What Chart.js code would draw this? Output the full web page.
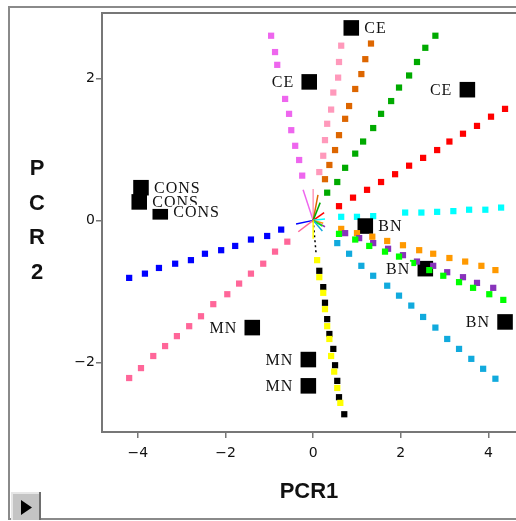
<!DOCTYPE html>
<html>
<head>
<meta charset="utf-8">
<script src="https://cdn.jsdelivr.net/npm/chart.js@4.4.1/dist/chart.umd.min.js"></script>
<style>
  html, body { margin: 0; padding: 0; background: #fff; }
  canvas { display: block; }
</style>
</head>
<body>
<canvas id="pcr-chart" width="516" height="521"></canvas>
<script>
// axes
const xTickValues = [-4, -2, 0, 2, 4];
const xTickLabels = ['−4', '−2', '0', '2', '4'];
const yTickValues = [2, 0, -2];
const yTickLabels = ['2', '0', '−2'];
const xTitle = 'PCR1';
const yTitleLetters = ['P', 'C', 'R', '2'];

// loading rays (PCR1, PCR2)
const violetX = [-0.96, -0.87, -0.82, -0.75, -0.64, -0.55, -0.50, -0.41, -0.32, -0.25];
const violetY = [2.60, 2.37, 2.19, 1.95, 1.71, 1.50, 1.27, 1.05, 0.85, 0.63];
const lightPinkX = [0.78, 0.64, 0.59, 0.57, 0.46, 0.41, 0.32, 0.27, 0.23, 0.14];
const lightPinkY = [2.70, 2.46, 2.23, 2.01, 1.80, 1.56, 1.36, 1.13, 0.91, 0.68];
const brownX = [1.32, 1.19, 1.10, 0.96, 0.82, 0.73, 0.59, 0.50, 0.37, 0.27];
const brownY = [2.49, 2.27, 2.06, 1.85, 1.61, 1.43, 1.20, 0.99, 0.78, 0.58];
const darkGreenX = [2.79, 2.56, 2.37, 2.19, 1.96, 1.78, 1.55, 1.37, 1.14, 0.96, 0.73, 0.55, 0.32];
const darkGreenY = [2.60, 2.43, 2.23, 2.04, 1.87, 1.68, 1.50, 1.30, 1.11, 0.94, 0.74, 0.54, 0.39];
const redX = [4.38, 4.06, 3.74, 3.42, 3.11, 2.83, 2.51, 2.19, 1.87, 1.55, 1.23, 0.91, 0.59];
const redY = [1.57, 1.46, 1.33, 1.22, 1.11, 0.99, 0.88, 0.77, 0.65, 0.54, 0.43, 0.32, 0.20];
const cyanX = [4.29, 3.93, 3.56, 3.20, 2.83, 2.47, 2.10, 1.37, 1.00, 0.64];
const cyanY = [0.18, 0.15, 0.15, 0.13, 0.12, 0.11, 0.11, 0.06, 0.05, 0.05];
const orangeX = [0.64, 1.00, 1.35, 1.69, 2.05, 2.42, 2.74, 3.11, 3.47, 3.84, 4.16];
const orangeY = [-0.12, -0.18, -0.23, -0.29, -0.35, -0.42, -0.47, -0.53, -0.58, -0.64, -0.70];
const purpleX = [0.73, 1.05, 1.37, 1.71, 2.05, 2.37, 2.74, 3.06, 3.42, 3.74, 4.11];
const purpleY = [-0.18, -0.25, -0.32, -0.40, -0.49, -0.58, -0.64, -0.73, -0.80, -0.88, -0.95];
const limeX = [0.59, 0.96, 1.28, 1.64, 1.96, 2.28, 2.65, 2.97, 3.33, 3.65, 4.02, 4.34];
const limeY = [-0.19, -0.27, -0.36, -0.44, -0.51, -0.60, -0.70, -0.78, -0.87, -0.95, -1.04, -1.12];
const skyX = [0.55, 0.82, 1.10, 1.37, 1.69, 1.96, 2.24, 2.51, 2.79, 3.06, 3.33, 3.61, 3.88, 4.16];
const skyY = [-0.32, -0.47, -0.64, -0.78, -0.92, -1.06, -1.20, -1.36, -1.51, -1.67, -1.81, -1.95, -2.09, -2.23];
const blueX = [-4.20, -3.84, -3.52, -3.15, -2.79, -2.47, -2.10, -1.78, -1.42, -1.05, -0.73];
const blueY = [-0.81, -0.75, -0.67, -0.61, -0.56, -0.47, -0.42, -0.36, -0.27, -0.22, -0.13];
const pinkX = [-4.20, -3.93, -3.65, -3.38, -3.11, -2.83, -2.56, -2.28, -1.96, -1.69, -1.42, -1.14, -0.87, -0.59];
const pinkY = [-2.22, -2.08, -1.91, -1.77, -1.63, -1.49, -1.35, -1.18, -1.04, -0.89, -0.75, -0.61, -0.44, -0.30];
const blackX = [0.14, 0.23, 0.27, 0.32, 0.37, 0.46, 0.50, 0.55, 0.59, 0.71];
const blackY = [-0.71, -0.94, -1.16, -1.39, -1.60, -1.81, -2.04, -2.26, -2.49, -2.73];
const yellowX = [0.09, 0.14, 0.23, 0.27, 0.32, 0.37, 0.41, 0.48, 0.55, 0.62];
const yellowY = [-0.56, -0.80, -1.02, -1.25, -1.49, -1.67, -1.91, -2.13, -2.36, -2.57];

// short vectors near the origin, same order as the rays below
const vectorEndX = [-0.23, 0.00, 0.11, 0.16, 0.25, 0.27, 0.23, 0.27, 0.21, 0.21, -0.39, -0.34, 0.07, 0.00];
const vectorEndY = [0.43, 0.44, 0.36, 0.25, 0.11, 0.02, -0.04, -0.09, -0.08, -0.15, -0.05, -0.16, -0.49, -0.26];

// samples
const sampleX = [0.87, -0.09, 3.52, 1.19, 2.56, 4.38, -1.39, -0.11, -0.11, -3.97, -3.49, -3.93];
const sampleY = [2.71, 1.95, 1.84, -0.08, -0.68, -1.43, -1.51, -1.96, -2.33, 0.26, 0.12, 0.46];
const sampleLabels = ['CE', 'CE', 'CE', 'BN', 'BN', 'BN', 'MN', 'MN', 'MN', 'CONS', 'CONS', 'CONS'];
const sampleSide = ['right', 'left', 'left', 'right', 'left', 'left', 'left', 'left', 'left', 'right', 'right', 'right'];

const rays = [
  { xs: violetX, ys: violetY, color: '#ee66ee' },
  { xs: lightPinkX, ys: lightPinkY, color: '#ff99bb' },
  { xs: brownX, ys: brownY, color: '#dd6600' },
  { xs: darkGreenX, ys: darkGreenY, color: '#00aa00' },
  { xs: redX, ys: redY, color: '#ff0000' },
  { xs: cyanX, ys: cyanY, color: '#00ffff' },
  { xs: orangeX, ys: orangeY, color: '#ff9900' },
  { xs: purpleX, ys: purpleY, color: '#8833bb' },
  { xs: limeX, ys: limeY, color: '#00ff00' },
  { xs: skyX, ys: skyY, color: '#11aadd' },
  { xs: blueX, ys: blueY, color: '#0000ff' },
  { xs: pinkX, ys: pinkY, color: '#ff6699' },
  { xs: blackX, ys: blackY, color: '#000000' },
  { xs: yellowX, ys: yellowY, color: '#ffff00' }
];

const toPoints = (xs, ys) => xs.map((x, i) => ({ x: x, y: ys[i] }));

// bottom-to-top drawing order, reversed at the end (chart.js paints index 0 last)
const layers = [];
rays.forEach((r, i) => {
  layers.push({
    data: [{ x: 0, y: 0 }, { x: vectorEndX[i], y: vectorEndY[i] }],
    showLine: true,
    borderColor: r.color,
    borderWidth: 1.5,
    borderDash: r.color === '#000000' ? [2, 3] : [],
    pointRadius: 0
  });
});
const rayLayer = r => ({
  data: toPoints(r.xs, r.ys),
  pointStyle: 'rect',
  pointRadius: 4.4,
  pointBorderWidth: 0,
  backgroundColor: r.color,
  showLine: false
});
rays.slice(0, 6).forEach(r => layers.push(rayLayer(r)));
layers.push({
  data: toPoints(sampleX, sampleY),
  pointStyle: 'rect',
  pointRadius: 11,
  pointBorderWidth: 0,
  backgroundColor: '#000',
  showLine: false
});
rays.slice(6).forEach(r => layers.push(rayLayer(r)));

const sampleLabelPlugin = {
  id: 'sampleLabels',
  afterDatasetsDraw(chart) {
    const { ctx, scales: { x, y } } = chart;
    ctx.save();
    ctx.font = '16px "Liberation Serif"';
    ctx.letterSpacing = '1px';
    ctx.textBaseline = 'middle';
    sampleLabels.forEach((txt, i) => {
      const px = x.getPixelForValue(sampleX[i]);
      const py = y.getPixelForValue(sampleY[i]);
      const w = ctx.measureText(txt).width;
      const tx = sampleSide[i] === 'left' ? px - 8 - 7 - w : px + 8 + 5;
      ctx.fillStyle = '#fff';
      ctx.fillRect(tx - 1, py - 7, w + 2, 14);
      ctx.fillStyle = '#111';
      ctx.fillText(txt, tx, py + 1);
    });
    ctx.restore();
  }
};

const framePlugin = {
  id: 'frame',
  beforeDraw(chart) {
    const ctx = chart.ctx;
    const w = chart.width;
    ctx.save();
    ctx.fillStyle = '#fff';
    ctx.fillRect(0, 0, w, chart.height);
    ctx.strokeStyle = '#8a8a8a';
    ctx.lineWidth = 2;
    ctx.beginPath();
    ctx.moveTo(w, 7);
    ctx.lineTo(9, 7);
    ctx.lineTo(9, 519);
    ctx.lineTo(w, 519);
    ctx.stroke();
    // little play button, bottom left
    ctx.fillStyle = '#c4c4c4';
    ctx.fillRect(11, 492, 30, 28);
    ctx.fillStyle = '#e6e6e6';
    ctx.fillRect(11, 492, 30, 2);
    ctx.fillRect(11, 492, 2, 28);
    ctx.fillStyle = '#6e6e6e';
    ctx.fillRect(39, 492, 2, 28);
    ctx.fillStyle = '#000';
    ctx.beginPath();
    ctx.moveTo(21, 500);
    ctx.lineTo(21, 515);
    ctx.lineTo(32, 507.5);
    ctx.closePath();
    ctx.fill();
    ctx.restore();
  },
  afterDraw(chart) {
    const { ctx, chartArea } = chart;
    ctx.save();
    ctx.strokeStyle = '#777';
    ctx.lineWidth = 2;
    ctx.beginPath();
    ctx.moveTo(chartArea.left - 1, chartArea.top);
    ctx.lineTo(chart.width, chartArea.top);
    ctx.stroke();
    ctx.font = 'bold 22px "Liberation Sans"';
    ctx.fillStyle = '#111';
    ctx.textAlign = 'center';
    ctx.textBaseline = 'middle';
    yTitleLetters.forEach((ch, i) => ctx.fillText(ch, 37, 169 + i * 34.7));
    ctx.restore();
  }
};

const tickFont = { family: '"DejaVu Sans"', size: 14 };

new Chart(document.getElementById('pcr-chart'), {
  type: 'scatter',
  data: { datasets: layers.reverse() },
  options: {
    responsive: false,
    animation: false,
    devicePixelRatio: 1,
    layout: { padding: { top: 13, right: 0, bottom: 0, left: 0 }, autoPadding: false },
    plugins: { legend: { display: false }, tooltip: { enabled: false } },
    scales: {
      x: {
        type: 'linear',
        min: -4.82,
        max: 4.63,
        afterBuildTicks: s => { s.ticks = xTickValues.map(v => ({ value: v })); },
        afterFit: s => { s.height = 89; s.paddingLeft = 0; s.paddingRight = 0; },
        ticks: {
          autoSkip: false,
          maxRotation: 0,
          padding: 7,
          color: '#111',
          font: tickFont,
          callback: v => xTickLabels[xTickValues.indexOf(v)]
        },
        grid: { drawOnChartArea: false, drawTicks: true, tickLength: 6, color: '#777', lineWidth: 1.5 },
        border: { display: true, color: '#777', width: 2 },
        title: {
          display: true,
          text: xTitle,
          color: '#111',
          font: { family: '"Liberation Sans"', size: 22, weight: 'bold' },
          padding: { top: 0, bottom: 16 }
        }
      },
      y: {
        type: 'linear',
        min: -2.98,
        max: 2.92,
        afterBuildTicks: s => { s.ticks = yTickValues.map(v => ({ value: v })); },
        afterFit: s => { s.width = 102; s.paddingTop = 0; s.paddingBottom = 0; },
        ticks: {
          autoSkip: false,
          padding: 1,
          color: '#111',
          font: tickFont,
          callback: v => yTickLabels[yTickValues.indexOf(v)]
        },
        grid: { drawOnChartArea: false, drawTicks: true, tickLength: 6, color: '#777', lineWidth: 1.5 },
        border: { display: true, color: '#777', width: 2 }
      }
    }
  },
  plugins: [framePlugin, sampleLabelPlugin]
});
</script>
</body>
</html>
